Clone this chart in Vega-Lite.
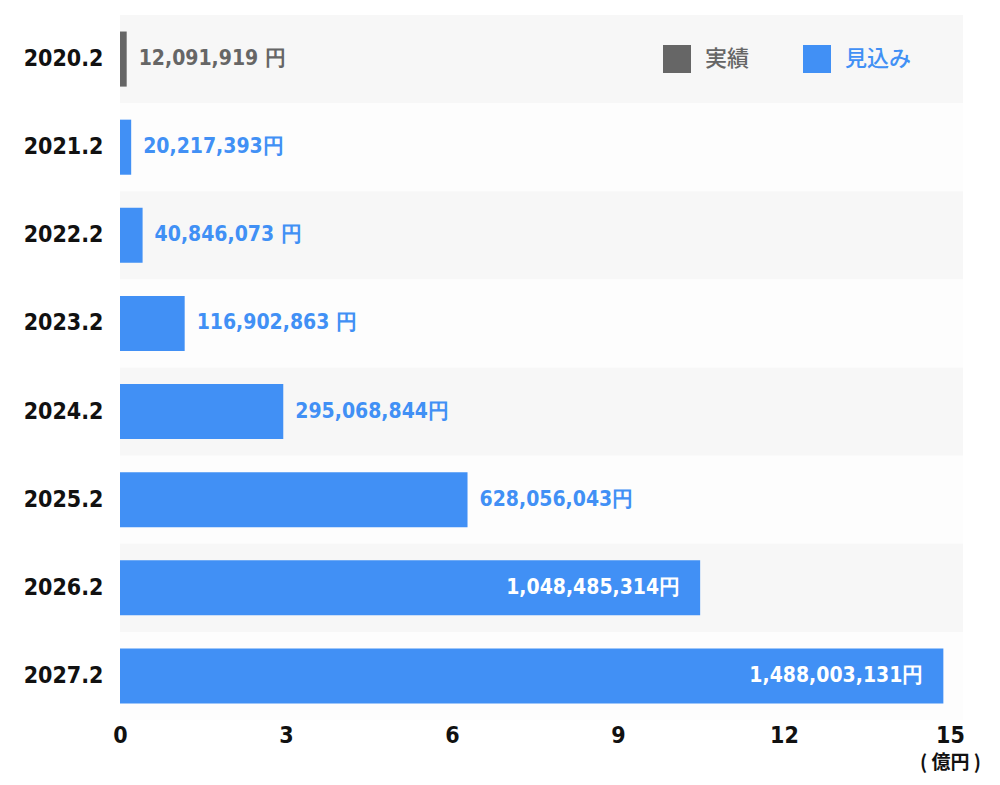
{
  "$schema": "https://vega.github.io/schema/vega-lite/v6.json",
  "width": 843,
  "height": 705,
  "autosize": {"type": "none"},
  "padding": {"left": 120, "top": 15, "right": 37, "bottom": 65},
  "background": "#ffffff",
  "config": {"view": {"stroke": null}},
  "data": {
    "values": [
      {"year": "2020.2", "oku": 0.12091919, "type": "実績", "label": "12,091,919 円"},
      {"year": "2021.2", "oku": 0.20217393, "type": "見込み", "label": "20,217,393円"},
      {"year": "2022.2", "oku": 0.40846073, "type": "見込み", "label": "40,846,073 円"},
      {"year": "2023.2", "oku": 1.16902863, "type": "見込み", "label": "116,902,863 円"},
      {"year": "2024.2", "oku": 2.95068844, "type": "見込み", "label": "295,068,844円"},
      {"year": "2025.2", "oku": 6.28056043, "type": "見込み", "label": "628,056,043円"},
      {"year": "2026.2", "oku": 10.48485314, "type": "見込み", "label": "1,048,485,314円"},
      {"year": "2027.2", "oku": 14.88003131, "type": "見込み", "label": "1,488,003,131円"}
    ]
  },
  "encoding": {
    "y": {
      "field": "year",
      "type": "nominal",
      "sort": null,
      "scale": {"paddingInner": 0, "paddingOuter": 0},
      "axis": {
        "title": null,
        "domain": false,
        "ticks": false,
        "labelPadding": 17,
        "labelFont": "DejaVu Sans Condensed, sans-serif",
        "labelFontWeight": "bold",
        "labelFontSize": 23,
        "labelColor": "#111111"
      }
    }
  },
  "layer": [
    {
      "mark": {"type": "rect"},
      "encoding": {
        "x": {"datum": 0, "type": "quantitative"},
        "x2": {"datum": 15.235},
        "color": {
          "condition": {"test": "indexof(['2020.2','2022.2','2024.2','2026.2'], datum.year) >= 0", "value": "#f7f7f7"},
          "value": "#fdfdfd"
        }
      }
    },
    {
      "mark": {"type": "bar", "height": {"band": 0.625}},
      "encoding": {
        "x": {
          "field": "oku",
          "type": "quantitative",
          "scale": {"domain": [0, 15.235], "nice": false, "zero": true},
          "axis": {
            "values": [0, 3, 6, 9, 12, 15],
            "format": "d",
            "grid": false,
            "domain": false,
            "ticks": false,
            "labelFlush": false,
            "labelPadding": 15,
            "labelFont": "DejaVu Sans Condensed, sans-serif",
            "labelFontWeight": "bold",
            "labelFontSize": 23,
            "labelColor": "#111111",
            "labelBaseline": "middle",
            "title": "( 億円 )",
            "titleFont": "Noto Sans CJK JP",
            "titleFontSize": 19,
            "titleFontWeight": "bold",
            "titleColor": "#111111",
            "titleAnchor": null,
            "titleAlign": "center",
            "titleBaseline": "middle",
            "titleX": 830,
            "titleY": 42
          }
        },
        "color": {
          "field": "type",
          "type": "nominal",
          "scale": {"domain": ["実績", "見込み"], "range": ["#666666", "#4190f5"]},
          "legend": {
            "title": null,
            "orient": "none",
            "legendX": 543,
            "legendY": 30,
            "direction": "horizontal",
            "padding": 0,
            "symbolType": "square",
            "symbolSize": 784,
            "symbolStrokeWidth": 0,
            "symbolOpacity": 1,
            "labelOffset": 14,
            "columnPadding": 53,
            "labelFont": "Noto Sans CJK JP",
            "labelFontSize": 22,
            "labelFontWeight": 500,
            "labelColor": {"expr": "datum.label == '実績' ? '#666666' : '#4190f5'"}
          }
        }
      }
    },
    {
      "transform": [{"filter": "datum.oku < 10"}],
      "mark": {
        "type": "text",
        "align": "left",
        "baseline": "middle",
        "dx": 12,
        "font": "DejaVu Sans Condensed, sans-serif",
        "fontSize": 21,
        "fontWeight": "bold"
      },
      "encoding": {
        "x": {"field": "oku", "type": "quantitative"},
        "text": {"field": "label"},
        "color": {
          "condition": {"test": "datum.type == '実績'", "value": "#666666"},
          "value": "#4190f5"
        }
      }
    },
    {
      "transform": [{"filter": "datum.oku >= 10"}],
      "mark": {
        "type": "text",
        "align": "right",
        "baseline": "middle",
        "dx": -20,
        "font": "DejaVu Sans Condensed, sans-serif",
        "fontSize": 21,
        "fontWeight": "bold",
        "color": "#ffffff"
      },
      "encoding": {
        "x": {"field": "oku", "type": "quantitative"},
        "text": {"field": "label"}
      }
    }
  ]
}
